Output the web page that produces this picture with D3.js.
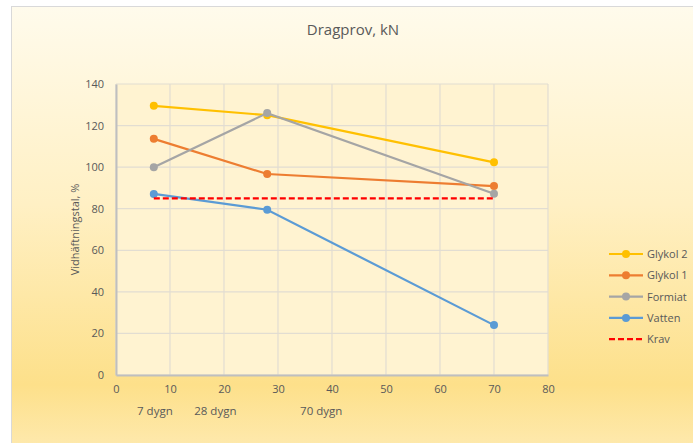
<!DOCTYPE html>
<html>
<head>
<meta charset="utf-8">
<script src="https://cdn.jsdelivr.net/npm/d3@7"></script>
<style>
  body { margin: 0; background: #fff; }
  svg text { font-family: "Open Sans", "Liberation Sans", sans-serif; fill: #595959; }
</style>
</head>
<body>
<svg id="chart" width="693" height="443"></svg>
<script>
// data
var days = [7, 28, 70];
var glykol2 = [129.5, 125, 102.3];
var glykol1 = [113.6, 96.7, 90.9];
var formiat = [100, 126, 87.2];
var vatten = [87.1, 79.5, 24];
var krav = [85, 85, 85];
var seriesNames = ["Glykol 2", "Glykol 1", "Formiat", "Vatten", "Krav"];
var dayLabels = ["7 dygn", "28 dygn", "70 dygn"];
var dayLabelAt = [7.2, 18.4, 38];
var xTicks = [0, 10, 20, 30, 40, 50, 60, 70, 80];
var yTicks = [0, 20, 40, 60, 80, 100, 120, 140];

var colors = ["#ffc000", "#ed7d31", "#a5a5a5", "#5b9bd5", "#ff0000"];

var svg = d3.select("#chart");
var defs = svg.append("defs");
var grad = defs.append("linearGradient").attr("id", "bg")
    .attr("x1", 0).attr("y1", 0).attr("x2", 0).attr("y2", 1);
grad.append("stop").attr("offset", "0%").attr("stop-color", "#fffbec");
grad.append("stop").attr("offset", "45%").attr("stop-color", "#fff0c4");
grad.append("stop").attr("offset", "86%").attr("stop-color", "#fde08a");
grad.append("stop").attr("offset", "100%").attr("stop-color", "#fee9ad");

// chart area background
svg.append("rect")
   .attr("x", 11.5).attr("y", 6.5)
   .attr("width", 690).attr("height", 440)
   .attr("fill", "url(#bg)")
   .attr("stroke", "#d9d9d9");

var margin = {left: 116, top: 84, right: 145, bottom: 68};
var width = 693 - margin.left - margin.right,
    height = 443 - margin.top - margin.bottom;

var xScale = d3.scaleLinear().domain([0, 80]).range([0, width]);
var yScale = d3.scaleLinear().domain([0, 140]).range([height, 0]);

var g = svg.append("g")
   .attr("transform", "translate(" + margin.left + "," + margin.top + ")");

g.append("rect")
 .attr("width", width).attr("height", height)
 .attr("fill", "#fff3d1");

// gridlines
g.append("g")
 .selectAll("line.h")
 .data(yTicks)
 .enter().append("line")
 .attr("x1", 0).attr("x2", width)
 .attr("y1", function(d) { return yScale(d); })
 .attr("y2", function(d) { return yScale(d); })
 .attr("stroke", "#e2ddd2").attr("stroke-width", 1.2);

g.append("g")
 .selectAll("line.v")
 .data(xTicks)
 .enter().append("line")
 .attr("y1", 0).attr("y2", height)
 .attr("x1", function(d) { return xScale(d); })
 .attr("x2", function(d) { return xScale(d); })
 .attr("stroke", "#e2ddd2").attr("stroke-width", 1.2);

// axes
var xAxis = g.append("g")
 .attr("transform", "translate(0," + height + ")")
 .call(d3.axisBottom(xScale).tickValues(xTicks).tickSize(0).tickPadding(10));
xAxis.select(".domain").attr("stroke", "#bfbfbf").attr("stroke-width", 2);
xAxis.selectAll("text").style("font-size", "11px");

var yAxis = g.append("g")
 .call(d3.axisLeft(yScale).tickValues(yTicks).tickSize(0).tickPadding(12));
yAxis.select(".domain").attr("stroke", "#bfbfbf").attr("stroke-width", 2);
yAxis.selectAll("text").style("font-size", "11px");

// series, later ones drawn on top
var allSeries = [glykol2, glykol1, formiat, vatten];
var line = d3.line()
  .x(function(d, i) { return xScale(days[i]); })
  .y(function(d) { return yScale(d); });

allSeries.forEach(function(vals, i) {
  g.append("path").datum(vals)
   .attr("d", line)
   .attr("fill", "none")
   .attr("stroke", colors[i])
   .attr("stroke-width", 2.2);
  g.selectAll(".m" + i)
   .data(vals)
   .enter().append("circle")
   .attr("class", "m" + i)
   .attr("cx", function(d, j) { return xScale(days[j]); })
   .attr("cy", function(d) { return yScale(d); })
   .attr("r", 4)
   .attr("fill", colors[i]);
});

g.append("path").datum(krav)
 .attr("d", line)
 .attr("fill", "none")
 .attr("stroke", colors[4])
 .attr("stroke-width", 2.2)
 .attr("stroke-dasharray", "6,3");

// day labels under axis
g.selectAll(".daylab")
 .data(dayLabels)
 .enter().append("text")
 .attr("x", function(d, i) { return xScale(dayLabelAt[i]); })
 .attr("y", height + 40)
 .attr("text-anchor", "middle")
 .style("font-size", "11.5px")
 .text(function(d) { return d; });

// title
svg.append("text")
   .attr("x", 353).attr("y", 35)
   .attr("text-anchor", "middle")
   .style("font-size", "15px")
   .text("Dragprov, kN");

// y title
svg.append("text")
   .attr("transform", "translate(79," + (margin.top + height / 2) + ") rotate(-90)")
   .attr("text-anchor", "middle")
   .style("font-size", "11px")
   .text("Vidhäftningstal, %");

// legend
var leg = svg.append("g").attr("transform", "translate(609,254)");
seriesNames.forEach(function(name, i) {
  var row = leg.append("g").attr("transform", "translate(0," + (i * 21.3) + ")");
  row.append("line")
     .attr("x1", 0).attr("x2", 34)
     .attr("stroke", colors[i]).attr("stroke-width", 2.2)
     .attr("stroke-dasharray", i === 4 ? "6,3" : null);
  if (i < 4) {
    row.append("circle").attr("cx", 17).attr("r", 4).attr("fill", colors[i]);
  }
  row.append("text")
     .attr("x", 38).attr("y", 4)
     .style("font-size", "11px")
     .text(name);
});
</script>
</body>
</html>
